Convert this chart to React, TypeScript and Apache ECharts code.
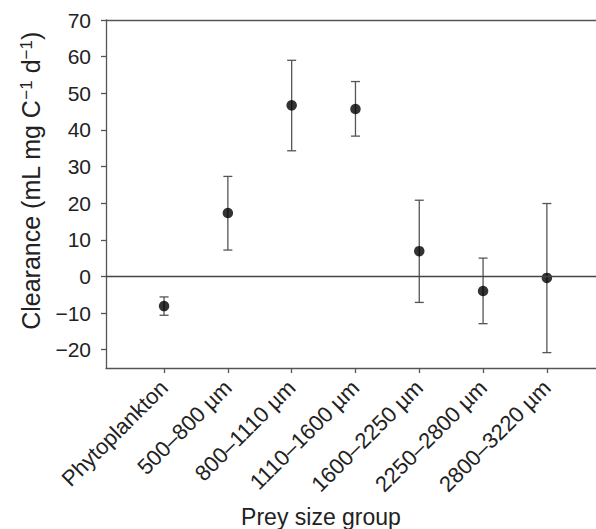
import React, { useEffect, useRef } from "react";
import * as echarts from "echarts";

const categories = [
  "Phytoplankton",
  "500–800 µm",
  "800–1110 µm",
  "1110–1600 µm",
  "1600–2250 µm",
  "2250–2800 µm",
  "2800–3220 µm",
];
const means = [-8.1, 17.3, 46.7, 45.7, 6.9, -4.0, -0.4];
const upper = [-5.6, 27.3, 59.0, 53.2, 20.8, 5.0, 19.9];
const lower = [-10.6, 7.2, 34.3, 38.3, -7.1, -12.9, -20.8];
const yTicks = [-20, -10, 0, 10, 20, 30, 40, 50, 60, 70];
const xPositions = categories.map((_, i) => i + 1);

const FONT = "'Liberation Sans', Arial, sans-serif";
const AXIS = "#555";

export default function App() {
  const ref = useRef<HTMLDivElement>(null);
  useEffect(() => {
    if (!ref.current) return;
    const chart = echarts.init(ref.current, null, { renderer: "svg" });
    const scatterData = means.map((m, i) => [xPositions[i], m]);
    const errData = means.map((_, i) => [xPositions[i], lower[i], upper[i]]);
    chart.setOption({
      animation: false,
      backgroundColor: "#fff",
      grid: { left: 106, top: 20, right: 0, bottom: 161 },
      xAxis: [
        {
          type: "value",
          min: 0.09,
          max: 7.77,
          position: "bottom",
          axisLine: { show: true, onZero: false, lineStyle: { color: AXIS, width: 1.3 } },
          axisTick: { show: true, length: 5, customValues: xPositions, lineStyle: { color: AXIS, width: 1.3 } },
          axisLabel: {
            customValues: xPositions,
            rotate: 45,
            margin: 16,
            fontSize: 22,
            fontFamily: FONT,
            color: "#222",
            formatter: (v: number) => categories[Math.round(v) - 1] ?? "",
          },
          splitLine: { show: false },
        },
        {
          type: "value",
          min: 0.09,
          max: 7.77,
          position: "top",
          axisLine: { show: true, onZero: false, lineStyle: { color: AXIS, width: 1.3 } },
          axisTick: { show: false },
          axisLabel: { show: false },
          splitLine: { show: false },
        },
      ],
      yAxis: {
        type: "value",
        min: -25,
        max: 70,
        axisLine: { show: true, onZero: false, lineStyle: { color: AXIS, width: 1.3 } },
        axisTick: { show: true, length: 5, customValues: yTicks, lineStyle: { color: AXIS, width: 1.3 } },
        axisLabel: {
          customValues: yTicks,
          margin: 15,
          fontSize: 21,
          fontFamily: FONT,
          color: "#222",
          formatter: (v: number) => (v < 0 ? "−" + Math.abs(v) : String(v)),
        },
        splitLine: { show: false },
      },
      series: [
        {
          type: "custom",
          xAxisIndex: 0,
          yAxisIndex: 0,
          data: errData,
          z: 2,
          renderItem: (params: any, api: any) => {
            const x = api.value(0);
            const lo = api.coord([x, api.value(1)]);
            const hi = api.coord([x, api.value(2)]);
            const hw = 4.5;
            const style = { stroke: "#555", lineWidth: 1.3 };
            return {
              type: "group",
              children: [
                { type: "line", shape: { x1: lo[0], y1: lo[1], x2: hi[0], y2: hi[1] }, style },
                { type: "line", shape: { x1: lo[0] - hw, y1: lo[1], x2: lo[0] + hw, y2: lo[1] }, style },
                { type: "line", shape: { x1: hi[0] - hw, y1: hi[1], x2: hi[0] + hw, y2: hi[1] }, style },
              ],
            };
          },
        },
        {
          type: "scatter",
          xAxisIndex: 0,
          yAxisIndex: 0,
          data: scatterData,
          symbol: "circle",
          symbolSize: 10.5,
          itemStyle: { color: "#000" },
          z: 3,
          markLine: {
            silent: true,
            symbol: ["none", "none"],
            label: { show: false },
            lineStyle: { color: "#444", width: 1.3, type: "solid" },
            data: [{ yAxis: 0 }],
          },
        },
      ],
      graphic: [
        {
          type: "text",
          x: 31,
          y: 181,
          rotation: Math.PI / 2,
          style: {
            text: "Clearance (mL mg C{sup|−1} d{sup|−1})",
            fontSize: 25,
            fontFamily: FONT,
            fill: "#222",
            align: "center",
            verticalAlign: "middle",
            rich: {
              sup: { fontSize: 17, fontFamily: FONT, fill: "#222", verticalAlign: "top", padding: [0, 0, 9, 0] },
            },
          },
        },
        {
          type: "text",
          x: 321,
          y: 517,
          style: {
            text: "Prey size group",
            fontSize: 23,
            fontFamily: FONT,
            fill: "#222",
            align: "center",
            verticalAlign: "middle",
          },
        },
      ],
    });
    return () => chart.dispose();
  }, []);
  return (
    <div
      ref={ref}
      style={{ position: "fixed", left: 0, top: 0, width: 596, height: 529 }}
    />
  );
}
